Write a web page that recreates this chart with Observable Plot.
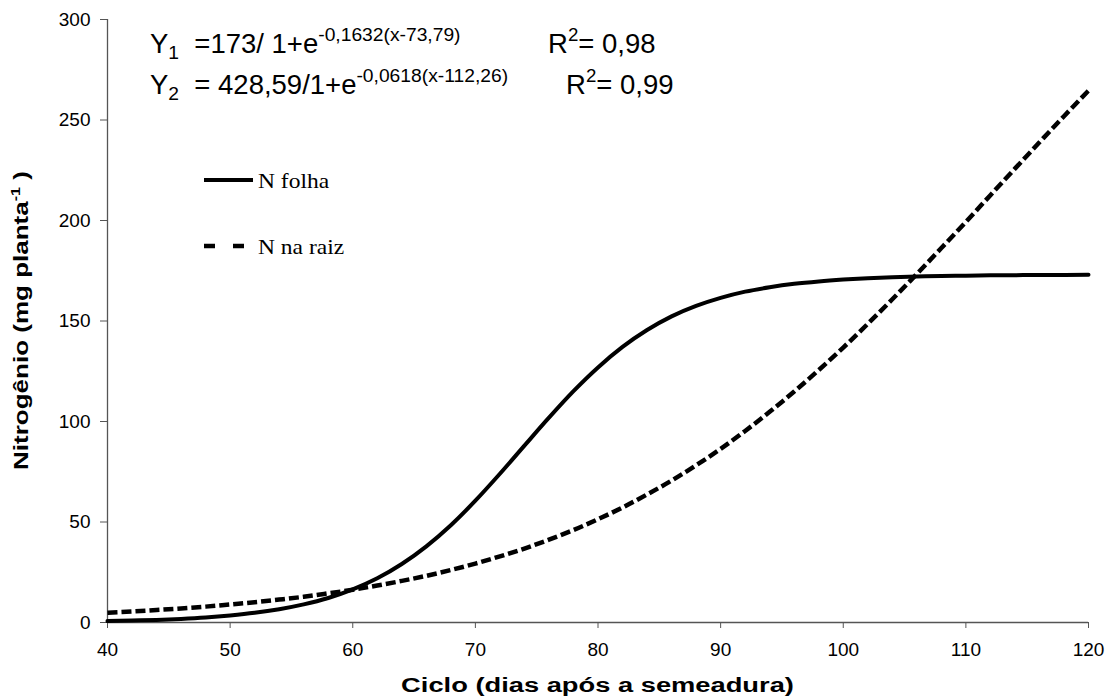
<!DOCTYPE html>
<html>
<head>
<meta charset="utf-8">
<script src="https://cdn.jsdelivr.net/npm/d3@7"></script>
<script src="https://cdn.jsdelivr.net/npm/@observablehq/plot@0.6"></script>
<style>
  html, body { margin: 0; padding: 0; background: #fff; }
  #chart svg text { white-space: pre; }
</style>
</head>
<body>
<div id="chart"></div>
<script>
// Days after sowing (x) and nitrogen values
const dias = [40,42,44,46,48,50,52,54,56,58,60,62,64,66,68,70,72,74,76,78,80,82,84,86,88,90,92,94,96,98,100,102,104,106,108,110,112,114,116,118,120];
const nFolha = [0.7,1.0,1.3,1.8,2.5,3.5,4.8,6.6,9.0,12.2,16.5,22.0,29.1,37.9,48.4,60.6,74.0,88.0,101.9,115.1,126.9,137.1,145.5,152.3,157.5,161.5,164.6,166.8,168.5,169.7,170.6,171.3,171.8,172.1,172.4,172.5,172.7,172.8,172.9,172.9,173.0];
const nRaiz = [4.9,5.5,6.2,7.0,7.9,9.0,10.1,11.4,12.8,14.5,16.3,18.4,20.7,23.2,26.1,29.3,32.9,36.8,41.2,46.0,51.4,57.2,63.7,70.6,78.2,86.4,95.3,104.8,114.9,125.6,136.8,148.6,160.8,173.4,186.3,199.3,212.6,225.8,238.9,251.9,264.6];
const xTicks = [40,50,60,70,80,90,100,110,120];
const yTicks = [0,50,100,150,200,250,300];
const seriesNames = ["N folha", "N na raiz"];
const xLabel = "Ciclo (dias após a semeadura)";
const eq1 = [["Y", ""], ["1", "sub"], ["  =173/ 1+e", ""], ["-0,1632(x-73,79)", "sup"]];
const eq2 = [["Y", ""], ["2", "sub"], ["  = 428,59/1+e", ""], ["-0,0618(x-112,26)", "sup"]];
const r1 = [["R", ""], ["2", "sup"], ["= 0,98", ""]];
const r2 = [["R", ""], ["2", "sup"], ["= 0,99", ""]];
const yLabel = [["Nitrogênio (mg planta", ""], ["-1", "sup"], [" )", ""]];

const rows = dias.map((d, i) => ({x: d, folha: nFolha[i], raiz: nRaiz[i]}));

const axisColor = "#555";
const plot = Plot.plot({
  width: 1108,
  height: 700,
  marginLeft: 107,
  marginRight: 20,
  marginTop: 19,
  marginBottom: 78,
  style: {fontFamily: "'Liberation Sans', Arial, sans-serif", fontSize: "19px", color: "#000", background: "#fff"},
  x: {domain: [40, 120]},
  y: {domain: [0, 300]},
  marks: [
    Plot.axisX({ticks: xTicks, tickSize: 6, tickPadding: 14, label: null, stroke: axisColor, fill: "#000", fontSize: 19}),
    Plot.axisY({ticks: yTicks, tickSize: 7, tickPadding: 10, label: null, stroke: axisColor, fill: "#000", fontSize: 19}),
    Plot.ruleX([40], {stroke: axisColor, strokeWidth: 1.3}),
    Plot.ruleY([0], {stroke: axisColor, strokeWidth: 1.3}),
    Plot.line(rows, {x: "x", y: "folha", stroke: "#000", strokeWidth: 4, curve: "monotone-x"}),
    Plot.line(rows, {x: "x", y: "raiz", stroke: "#000", strokeWidth: 4.5, strokeDasharray: "10,4", strokeLinecap: "butt", curve: "monotone-x"})
  ]
});

document.getElementById("chart").appendChild(plot);

const svg = d3.select(plot);
const sx = plot.scale("x"), sy = plot.scale("y");
const g = svg.append("g");

function richText(x, y, parts, o) {
  const size = o.size;
  const t = g.append("text")
    .attr("transform", `translate(${x},${y})${o.rotate ? ` rotate(${o.rotate})` : ""} scale(${o.sx || 1},1)`)
    .attr("font-family", o.family || "'Liberation Sans', Arial, sans-serif")
    .attr("font-size", size)
    .attr("font-weight", o.weight || "normal")
    .attr("text-anchor", o.anchor || "start")
    .attr("fill", "#000");
  let cur = 0;
  for (const [s, k] of parts) {
    const shift = k === "sup" ? -size * (o.supShift || 0.42) : k === "sub" ? size * 0.22 : 0;
    const ts = t.append("tspan").attr("dy", shift - cur).text(s);
    if (k) ts.attr("font-size", size * (o.small || 0.68));
    cur = shift;
  }
  return t;
}

// equations
richText(150, 53, eq1, {size: 27.5, small: 0.7});
richText(150, 94, eq2, {size: 27.5, small: 0.7});
richText(548, 53, r1, {size: 27.5, small: 0.68});
richText(566, 94, r2, {size: 27.5, small: 0.68});

// axis titles
const plotMidX = (sx.apply(40) + sx.apply(120)) / 2;
const plotMidY = (sy.apply(0) + sy.apply(300)) / 2;
richText(plotMidX, 692, [[xLabel, ""]], {size: 21, weight: "bold", anchor: "middle", sx: 1.3});
richText(28, plotMidY, yLabel, {size: 20, weight: "bold", anchor: "middle", rotate: -90, sx: 1.3, small: 0.62});

// legend
const serif = "'Liberation Serif', 'Times New Roman', serif";
g.append("line").attr("x1", 204).attr("x2", 253).attr("y1", 180).attr("y2", 180)
  .attr("stroke", "#000").attr("stroke-width", 4);
g.append("line").attr("x1", 204).attr("x2", 245).attr("y1", 246).attr("y2", 246)
  .attr("stroke", "#000").attr("stroke-width", 4.5).attr("stroke-dasharray", "11,18");
richText(258, 188, [[seriesNames[0], ""]], {size: 21, family: serif, sx: 1.12});
richText(258, 254, [[seriesNames[1], ""]], {size: 21, family: serif, sx: 1.12});
</script>
</body>
</html>
